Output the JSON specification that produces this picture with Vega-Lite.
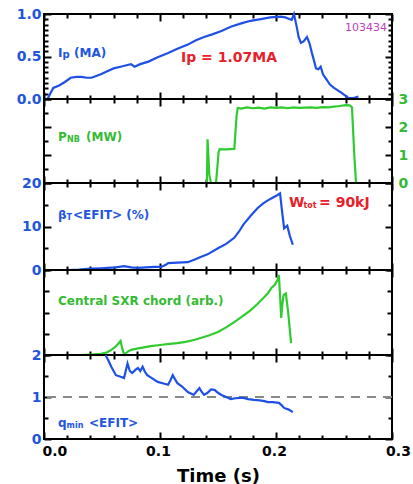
{
  "$schema": "https://vega.github.io/schema/vega-lite/v6.json",
  "padding": {"left": 15, "top": 6, "right": 5, "bottom": 5},
  "background": "white",
  "spacing": 0,
  "bounds": "flush",
  "config": {
    "view": {"stroke": "black", "strokeWidth": 2},
    "axis": {"domain": false, "grid": false, "labelFont": "DejaVu Sans", "labelFontWeight": "bold", "labelFontSize": 14, "tickColor": "black", "tickWidth": 2},
    "text": {"font": "DejaVu Sans", "fontWeight": "bold", "align": "left", "baseline": "middle"}
  },
  "datasets": {
    "ip": [
      {"t": 0.003, "v": 0}, {"t": 0.006, "v": 0.08}, {"t": 0.008, "v": 0.13}, {"t": 0.013, "v": 0.16}, {"t": 0.018, "v": 0.2},
      {"t": 0.023, "v": 0.25}, {"t": 0.028, "v": 0.26}, {"t": 0.032, "v": 0.26}, {"t": 0.037, "v": 0.25}, {"t": 0.041, "v": 0.25},
      {"t": 0.045, "v": 0.27}, {"t": 0.049, "v": 0.29}, {"t": 0.055, "v": 0.33}, {"t": 0.06, "v": 0.36}, {"t": 0.066, "v": 0.38},
      {"t": 0.072, "v": 0.4}, {"t": 0.075, "v": 0.41}, {"t": 0.078, "v": 0.38}, {"t": 0.083, "v": 0.41}, {"t": 0.09, "v": 0.44},
      {"t": 0.098, "v": 0.49}, {"t": 0.107, "v": 0.54}, {"t": 0.115, "v": 0.59}, {"t": 0.124, "v": 0.64}, {"t": 0.131, "v": 0.69},
      {"t": 0.138, "v": 0.73}, {"t": 0.145, "v": 0.76}, {"t": 0.153, "v": 0.8}, {"t": 0.161, "v": 0.85}, {"t": 0.17, "v": 0.89},
      {"t": 0.178, "v": 0.92}, {"t": 0.187, "v": 0.94}, {"t": 0.195, "v": 0.96}, {"t": 0.204, "v": 0.97}, {"t": 0.208, "v": 0.96},
      {"t": 0.2115, "v": 0.94}, {"t": 0.2135, "v": 0.93}, {"t": 0.2155, "v": 1.0}, {"t": 0.218, "v": 0.84}, {"t": 0.2195, "v": 0.73},
      {"t": 0.2215, "v": 0.66}, {"t": 0.224, "v": 0.68}, {"t": 0.2267, "v": 0.73}, {"t": 0.229, "v": 0.65}, {"t": 0.231, "v": 0.54},
      {"t": 0.233, "v": 0.44}, {"t": 0.2345, "v": 0.36}, {"t": 0.2365, "v": 0.35}, {"t": 0.2385, "v": 0.38}, {"t": 0.2405, "v": 0.29},
      {"t": 0.2435, "v": 0.23}, {"t": 0.2465, "v": 0.17}, {"t": 0.25, "v": 0.13}, {"t": 0.2569, "v": 0.07}, {"t": 0.2626, "v": 0.01},
      {"t": 0.267, "v": 0.01}, {"t": 0.271, "v": 0.03}
    ],
    "pnb": [
      {"t": 0.1397, "v": 0}, {"t": 0.1404, "v": 0}, {"t": 0.141, "v": 1.56}, {"t": 0.1425, "v": 0.3}, {"t": 0.144, "v": 0},
      {"t": 0.1483, "v": 0}, {"t": 0.1505, "v": 1.1}, {"t": 0.1515, "v": 1.21}, {"t": 0.156, "v": 1.2}, {"t": 0.16, "v": 1.21},
      {"t": 0.1641, "v": 1.22}, {"t": 0.166, "v": 2.4}, {"t": 0.167, "v": 2.68}, {"t": 0.17, "v": 2.66}, {"t": 0.175, "v": 2.7},
      {"t": 0.18, "v": 2.67}, {"t": 0.185, "v": 2.69}, {"t": 0.19, "v": 2.66}, {"t": 0.195, "v": 2.7}, {"t": 0.2, "v": 2.68},
      {"t": 0.205, "v": 2.7}, {"t": 0.21, "v": 2.67}, {"t": 0.215, "v": 2.7}, {"t": 0.22, "v": 2.68}, {"t": 0.225, "v": 2.69},
      {"t": 0.23, "v": 2.7}, {"t": 0.235, "v": 2.68}, {"t": 0.24, "v": 2.71}, {"t": 0.245, "v": 2.7}, {"t": 0.25, "v": 2.73},
      {"t": 0.255, "v": 2.75}, {"t": 0.26, "v": 2.78}, {"t": 0.2635, "v": 2.77}, {"t": 0.2655, "v": 2.7}, {"t": 0.2675, "v": 1.0},
      {"t": 0.269, "v": 0}
    ],
    "beta": [
      {"t": 0.02, "v": 0}, {"t": 0.03, "v": 0.1}, {"t": 0.04, "v": 0.3}, {"t": 0.049, "v": 0.4}, {"t": 0.055, "v": 0.5},
      {"t": 0.062, "v": 0.6}, {"t": 0.069, "v": 0.9}, {"t": 0.075, "v": 0.6}, {"t": 0.081, "v": 0.5}, {"t": 0.088, "v": 0.6},
      {"t": 0.095, "v": 0.7}, {"t": 0.101, "v": 0.7}, {"t": 0.105, "v": 1.2}, {"t": 0.107, "v": 1.6}, {"t": 0.115, "v": 1.7},
      {"t": 0.124, "v": 1.8}, {"t": 0.13, "v": 2.4}, {"t": 0.135, "v": 3.0}, {"t": 0.141, "v": 3.6}, {"t": 0.15, "v": 5.0},
      {"t": 0.157, "v": 6.0}, {"t": 0.164, "v": 7.4}, {"t": 0.168, "v": 8.8}, {"t": 0.172, "v": 10.5}, {"t": 0.178, "v": 12.4},
      {"t": 0.184, "v": 14.2}, {"t": 0.189, "v": 15.3}, {"t": 0.193, "v": 16.0}, {"t": 0.197, "v": 16.6}, {"t": 0.201, "v": 17.2},
      {"t": 0.2035, "v": 17.6}, {"t": 0.205, "v": 14.0}, {"t": 0.207, "v": 9.6}, {"t": 0.2097, "v": 10.2}, {"t": 0.212, "v": 7.8},
      {"t": 0.2145, "v": 5.8}
    ],
    "sxr": [
      {"t": 0.032, "v": 0}, {"t": 0.04, "v": 0.02}, {"t": 0.049, "v": 0.05}, {"t": 0.054, "v": 0.12}, {"t": 0.058, "v": 0.24},
      {"t": 0.062, "v": 0.4}, {"t": 0.066, "v": 0.66}, {"t": 0.0675, "v": 0.3}, {"t": 0.069, "v": 0.02}, {"t": 0.072, "v": 0.15},
      {"t": 0.075, "v": 0.24}, {"t": 0.08, "v": 0.3}, {"t": 0.086, "v": 0.36}, {"t": 0.092, "v": 0.42}, {"t": 0.1, "v": 0.47},
      {"t": 0.108, "v": 0.52}, {"t": 0.115, "v": 0.56}, {"t": 0.122, "v": 0.62}, {"t": 0.13, "v": 0.72}, {"t": 0.135, "v": 0.8},
      {"t": 0.142, "v": 0.92}, {"t": 0.15, "v": 1.08}, {"t": 0.157, "v": 1.3}, {"t": 0.164, "v": 1.55}, {"t": 0.171, "v": 1.82},
      {"t": 0.178, "v": 2.1}, {"t": 0.184, "v": 2.4}, {"t": 0.19, "v": 2.73}, {"t": 0.193, "v": 2.9}, {"t": 0.196, "v": 3.15},
      {"t": 0.199, "v": 3.3}, {"t": 0.2015, "v": 3.55}, {"t": 0.2025, "v": 3.76}, {"t": 0.2035, "v": 2.8}, {"t": 0.2045, "v": 1.74},
      {"t": 0.2055, "v": 2.4}, {"t": 0.2065, "v": 2.82}, {"t": 0.2085, "v": 2.9}, {"t": 0.2105, "v": 2.0}, {"t": 0.213, "v": 0.56}
    ],
    "qmin": [
      {"t": 0.053, "v": 2.0}, {"t": 0.055, "v": 1.9}, {"t": 0.058, "v": 1.72}, {"t": 0.062, "v": 1.52}, {"t": 0.066, "v": 1.48},
      {"t": 0.069, "v": 1.45}, {"t": 0.072, "v": 1.8}, {"t": 0.074, "v": 1.62}, {"t": 0.076, "v": 1.57}, {"t": 0.079, "v": 1.65},
      {"t": 0.081, "v": 1.69}, {"t": 0.083, "v": 1.62}, {"t": 0.085, "v": 1.72}, {"t": 0.087, "v": 1.6}, {"t": 0.089, "v": 1.52},
      {"t": 0.093, "v": 1.45}, {"t": 0.098, "v": 1.36}, {"t": 0.103, "v": 1.32}, {"t": 0.107, "v": 1.29}, {"t": 0.109, "v": 1.4},
      {"t": 0.111, "v": 1.52}, {"t": 0.113, "v": 1.42}, {"t": 0.115, "v": 1.33}, {"t": 0.119, "v": 1.25}, {"t": 0.124, "v": 1.12},
      {"t": 0.127, "v": 1.08}, {"t": 0.129, "v": 1.05}, {"t": 0.132, "v": 1.15}, {"t": 0.134, "v": 1.21}, {"t": 0.136, "v": 1.12},
      {"t": 0.138, "v": 1.05}, {"t": 0.141, "v": 1.1}, {"t": 0.144, "v": 1.18}, {"t": 0.147, "v": 1.17}, {"t": 0.15, "v": 1.1},
      {"t": 0.153, "v": 1.05}, {"t": 0.157, "v": 1.0}, {"t": 0.161, "v": 0.95}, {"t": 0.165, "v": 0.97}, {"t": 0.169, "v": 0.98},
      {"t": 0.172, "v": 0.98}, {"t": 0.176, "v": 0.95}, {"t": 0.181, "v": 0.93}, {"t": 0.186, "v": 0.92}, {"t": 0.19, "v": 0.9},
      {"t": 0.193, "v": 0.88}, {"t": 0.197, "v": 0.88}, {"t": 0.2025, "v": 0.86}, {"t": 0.205, "v": 0.8}, {"t": 0.207, "v": 0.74},
      {"t": 0.211, "v": 0.7}, {"t": 0.2145, "v": 0.64}
    ]
  },
  "vconcat": [
    {
      "width": 348, "height": 85,
      "layer": [
        {"data": {"name": "ip"}, "mark": {"type": "line", "color": "#1e50e6", "strokeWidth": 2.2},
         "encoding": {
           "x": {"field": "t", "type": "quantitative", "scale": {"domain": [0, 0.3], "nice": false},
                 "axis": {"orient": "bottom", "values": [0,0.02,0.04,0.06,0.08,0.1,0.12,0.14,0.16,0.18,0.2,0.22,0.24,0.26,0.28,0.3], "labels": false, "title": null,
                          "tickSize": {"condition": {"test": "abs(datum.value*10-round(datum.value*10))<0.001", "value": -7}, "value": -4}}},
           "y": {"field": "v", "type": "quantitative", "scale": {"domain": [0, 1], "nice": false},
                 "axis": {"orient": "left", "values": [0,0.0625,0.125,0.1875,0.25,0.3125,0.375,0.4375,0.5,0.5625,0.625,0.6875,0.75,0.8125,0.875,0.9375,1],
                          "labelExpr": "abs(datum.value*2-round(datum.value*2))<0.001 ? format(datum.value,'.1f') : ''", "labelColor": "#2255dd", "labelPadding": 10, "labelOverlap": false, "title": null,
                          "tickSize": {"condition": {"test": "abs(datum.value*2-round(datum.value*2))<0.001", "value": -7}, "value": -4}}}
         }},
        {"data": {"values": [{}]}, "mark": {"type": "text", "color": "#2255dd", "fontSize": 12},
         "encoding": {
           "x": {"datum": 0.0121, "type": "quantitative",
                 "axis": {"orient": "top", "values": [0,0.02,0.04,0.06,0.08,0.1,0.12,0.14,0.16,0.18,0.2,0.22,0.24,0.26,0.28,0.3], "labels": false, "title": null,
                          "tickSize": {"condition": {"test": "abs(datum.value*10-round(datum.value*10))<0.001", "value": -7}, "value": -4}}},
           "y": {"datum": 0.54, "type": "quantitative",
                 "axis": {"orient": "right", "values": [0,0.0625,0.125,0.1875,0.25,0.3125,0.375,0.4375,0.5,0.5625,0.625,0.6875,0.75,0.8125,0.875,0.9375,1], "labels": false, "title": null,
                          "tickSize": {"condition": {"test": "abs(datum.value*2-round(datum.value*2))<0.001", "value": -7}, "value": -4}}},
           "text": {"value": "I"}
         }},
        {"data": {"values": [{}]}, "mark": {"type": "text", "color": "#2255dd", "fontSize": 10, "dy": 2},
         "encoding": {"x": {"datum": 0.0159, "type": "quantitative", "axis": null}, "y": {"datum": 0.54, "type": "quantitative", "axis": null}, "text": {"value": "p"}}},
        {"data": {"values": [{}]}, "mark": {"type": "text", "color": "#2255dd", "fontSize": 12},
         "encoding": {"x": {"datum": 0.0259, "type": "quantitative", "axis": null}, "y": {"datum": 0.54, "type": "quantitative", "axis": null}, "text": {"value": "(MA)"}}},
        {"data": {"values": [{}]}, "mark": {"type": "text", "color": "#e8202a", "fontSize": 14},
         "encoding": {"x": {"datum": 0.1181, "type": "quantitative", "axis": null}, "y": {"datum": 0.48, "type": "quantitative", "axis": null}, "text": {"value": "Ip = 1.07MA"}}},
        {"data": {"values": [{}]}, "mark": {"type": "text", "color": "#c040c0", "fontSize": 11, "fontWeight": "normal", "align": "right"},
         "encoding": {"x": {"datum": 0.2957, "type": "quantitative", "axis": null}, "y": {"datum": 0.835, "type": "quantitative", "axis": null}, "text": {"value": "103434"}}}
      ],
      "resolve": {"axis": {"x": "independent", "y": "independent"}}
    },
    {
      "width": 348, "height": 84,
      "layer": [
        {"data": {"name": "pnb"}, "mark": {"type": "line", "color": "#2ecc2e", "strokeWidth": 2.2},
         "encoding": {
           "x": {"field": "t", "type": "quantitative", "scale": {"domain": [0, 0.3], "nice": false},
                 "axis": {"orient": "bottom", "values": [0,0.02,0.04,0.06,0.08,0.1,0.12,0.14,0.16,0.18,0.2,0.22,0.24,0.26,0.28,0.3], "labels": false, "title": null,
                          "tickSize": {"condition": {"test": "abs(datum.value*10-round(datum.value*10))<0.001", "value": -7}, "value": -4}}},
           "y": {"field": "v", "type": "quantitative", "scale": {"domain": [0, 3], "nice": false},
                 "axis": {"orient": "left", "values": [0,0.5,1,1.5,2,2.5,3], "labels": false, "title": null,
                          "tickSize": {"condition": {"test": "abs(datum.value-round(datum.value))<0.001", "value": -7}, "value": -4}}}
         }},
        {"data": {"values": [{}]}, "mark": {"type": "text", "color": "#33bb33", "fontSize": 12},
         "encoding": {
           "x": {"datum": 0.0121, "type": "quantitative",
                 "axis": {"orient": "top", "values": [0,0.02,0.04,0.06,0.08,0.1,0.12,0.14,0.16,0.18,0.2,0.22,0.24,0.26,0.28,0.3], "labels": false, "title": null,
                          "tickSize": {"condition": {"test": "abs(datum.value*10-round(datum.value*10))<0.001", "value": -7}, "value": -4}}},
           "y": {"datum": 1.64, "type": "quantitative",
                 "axis": {"orient": "right", "values": [0,0.5,1,1.5,2,2.5,3], "labelExpr": "abs(datum.value-round(datum.value))<0.001 ? format(datum.value,'d') : ''",
                          "labelColor": "#33bb33", "labelPadding": 13, "labelOverlap": false, "title": null,
                          "tickSize": {"condition": {"test": "abs(datum.value-round(datum.value))<0.001", "value": -7}, "value": -4}}},
           "text": {"value": "P"}
         }},
        {"data": {"values": [{}]}, "mark": {"type": "text", "color": "#33bb33", "fontSize": 8, "dy": 3},
         "encoding": {"x": {"datum": 0.0198, "type": "quantitative", "axis": null}, "y": {"datum": 1.64, "type": "quantitative", "axis": null}, "text": {"value": "NB"}}},
        {"data": {"values": [{}]}, "mark": {"type": "text", "color": "#33bb33", "fontSize": 12},
         "encoding": {"x": {"datum": 0.0362, "type": "quantitative", "axis": null}, "y": {"datum": 1.64, "type": "quantitative", "axis": null}, "text": {"value": "(MW)"}}}
      ],
      "resolve": {"axis": {"x": "independent", "y": "independent"}}
    },
    {
      "width": 348, "height": 87,
      "layer": [
        {"data": {"name": "beta"}, "mark": {"type": "line", "color": "#1e50e6", "strokeWidth": 2.2},
         "encoding": {
           "x": {"field": "t", "type": "quantitative", "scale": {"domain": [0, 0.3], "nice": false},
                 "axis": {"orient": "bottom", "values": [0,0.02,0.04,0.06,0.08,0.1,0.12,0.14,0.16,0.18,0.2,0.22,0.24,0.26,0.28,0.3], "labels": false, "title": null,
                          "tickSize": {"condition": {"test": "abs(datum.value*10-round(datum.value*10))<0.001", "value": -7}, "value": -4}}},
           "y": {"field": "v", "type": "quantitative", "scale": {"domain": [0, 20], "nice": false},
                 "axis": {"orient": "left", "values": [0,5,10,15,20], "labelExpr": "datum.value%10==0 ? format(datum.value,'d') : ''", "labelColor": "#2255dd", "labelPadding": 10, "labelOverlap": false, "title": null,
                          "tickSize": {"condition": {"test": "datum.value%10==0", "value": -7}, "value": -4}}}
         }},
        {"data": {"values": [{}]}, "mark": {"type": "text", "color": "#2255dd", "fontSize": 12},
         "encoding": {
           "x": {"datum": 0.0121, "type": "quantitative",
                 "axis": {"orient": "top", "values": [0,0.02,0.04,0.06,0.08,0.1,0.12,0.14,0.16,0.18,0.2,0.22,0.24,0.26,0.28,0.3], "labels": false, "title": null,
                          "tickSize": {"condition": {"test": "abs(datum.value*10-round(datum.value*10))<0.001", "value": -7}, "value": -4}}},
           "y": {"datum": 12.6, "type": "quantitative",
                 "axis": {"orient": "right", "values": [0,5,10,15,20], "labels": false, "title": null,
                          "tickSize": {"condition": {"test": "datum.value%10==0", "value": -7}, "value": -4}}},
           "text": {"value": "β"}
         }},
        {"data": {"values": [{}]}, "mark": {"type": "text", "color": "#2255dd", "fontSize": 8, "dy": 3},
         "encoding": {"x": {"datum": 0.0194, "type": "quantitative", "axis": null}, "y": {"datum": 12.6, "type": "quantitative", "axis": null}, "text": {"value": "T"}}},
        {"data": {"values": [{}]}, "mark": {"type": "text", "color": "#2255dd", "fontSize": 12},
         "encoding": {"x": {"datum": 0.025, "type": "quantitative", "axis": null}, "y": {"datum": 12.6, "type": "quantitative", "axis": null}, "text": {"value": "<EFIT> (%)"}}},
        {"data": {"values": [{}]}, "mark": {"type": "text", "color": "#e8202a", "fontSize": 14},
         "encoding": {"x": {"datum": 0.2112, "type": "quantitative", "axis": null}, "y": {"datum": 15.4, "type": "quantitative", "axis": null}, "text": {"value": "W"}}},
        {"data": {"values": [{}]}, "mark": {"type": "text", "color": "#e8202a", "fontSize": 8, "dy": 3},
         "encoding": {"x": {"datum": 0.2236, "type": "quantitative", "axis": null}, "y": {"datum": 15.4, "type": "quantitative", "axis": null}, "text": {"value": "tot"}}},
        {"data": {"values": [{}]}, "mark": {"type": "text", "color": "#e8202a", "fontSize": 14},
         "encoding": {"x": {"datum": 0.2371, "type": "quantitative", "axis": null}, "y": {"datum": 15.4, "type": "quantitative", "axis": null}, "text": {"value": "= 90kJ"}}}
      ],
      "resolve": {"axis": {"x": "independent", "y": "independent"}}
    },
    {
      "width": 348, "height": 85,
      "layer": [
        {"data": {"name": "sxr"}, "mark": {"type": "line", "color": "#2ecc2e", "strokeWidth": 2.2},
         "encoding": {
           "x": {"field": "t", "type": "quantitative", "scale": {"domain": [0, 0.3], "nice": false},
                 "axis": {"orient": "bottom", "values": [0,0.02,0.04,0.06,0.08,0.1,0.12,0.14,0.16,0.18,0.2,0.22,0.24,0.26,0.28,0.3], "labels": false, "title": null,
                          "tickSize": {"condition": {"test": "abs(datum.value*10-round(datum.value*10))<0.001", "value": -7}, "value": -4}}},
           "y": {"field": "v", "type": "quantitative", "scale": {"domain": [0, 4], "nice": false},
                 "axis": {"orient": "left", "values": [0,1,2,3,4], "labels": false, "title": null, "tickSize": -5}}
         }},
        {"data": {"values": [{}]}, "mark": {"type": "text", "color": "#33bb33", "fontSize": 12},
         "encoding": {
           "x": {"datum": 0.0121, "type": "quantitative",
                 "axis": {"orient": "top", "values": [0,0.02,0.04,0.06,0.08,0.1,0.12,0.14,0.16,0.18,0.2,0.22,0.24,0.26,0.28,0.3], "labels": false, "title": null,
                          "tickSize": {"condition": {"test": "abs(datum.value*10-round(datum.value*10))<0.001", "value": -7}, "value": -4}}},
           "y": {"datum": 2.54, "type": "quantitative",
                 "axis": {"orient": "right", "values": [0,1,2,3,4], "labels": false, "title": null, "tickSize": -5}},
           "text": {"value": "Central SXR chord (arb.)"}
         }}
      ],
      "resolve": {"axis": {"x": "independent", "y": "independent"}}
    },
    {
      "width": 348, "height": 84,
      "layer": [
        {"data": {"values": [{}]}, "mark": {"type": "rule", "color": "#888888", "strokeWidth": 2, "strokeDash": [9, 7]},
         "encoding": {"y": {"datum": 1, "type": "quantitative", "scale": {"domain": [0, 2], "nice": false}, "axis": null}}},
        {"data": {"name": "qmin"}, "mark": {"type": "line", "color": "#1e50e6", "strokeWidth": 2.2},
         "encoding": {
           "x": {"field": "t", "type": "quantitative", "scale": {"domain": [0, 0.3], "nice": false},
                 "axis": {"orient": "bottom", "values": [0,0.02,0.04,0.06,0.08,0.1,0.12,0.14,0.16,0.18,0.2,0.22,0.24,0.26,0.28,0.3],
                          "labelExpr": "abs(datum.value*10-round(datum.value*10))<0.001 ? format(datum.value,'.1f') : ''", "labelFlush": false, "labelOverlap": false,
                          "labelAlign": {"condition": {"test": "datum.value<0.001", "value": "left"}, "value": "center"},
                          "labelOffset": {"condition": {"test": "datum.value>0.29", "value": 6}, "value": -2},
                          "labelPadding": 12, "labelColor": "black", "title": "Time (s)", "titleFont": "DejaVu Sans", "titleFontSize": 18, "titleFontWeight": "bold", "titleColor": "black", "titlePadding": 6,
                          "tickSize": {"condition": {"test": "abs(datum.value*10-round(datum.value*10))<0.001", "value": -7}, "value": -4}}},
           "y": {"field": "v", "type": "quantitative", "scale": {"domain": [0, 2], "nice": false},
                 "axis": {"orient": "left", "values": [0,0.5,1,1.5,2], "labelExpr": "datum.value%1==0 ? format(datum.value,'d') : ''", "labelColor": "#2255dd", "labelPadding": 10, "labelOverlap": false, "title": null,
                          "tickSize": {"condition": {"test": "datum.value%1==0", "value": -7}, "value": -4}}}
         }},
        {"data": {"values": [{}]}, "mark": {"type": "text", "color": "#2255dd", "fontSize": 12},
         "encoding": {
           "x": {"datum": 0.0121, "type": "quantitative",
                 "axis": {"orient": "top", "values": [0,0.02,0.04,0.06,0.08,0.1,0.12,0.14,0.16,0.18,0.2,0.22,0.24,0.26,0.28,0.3], "labels": false, "title": null,
                          "tickSize": {"condition": {"test": "abs(datum.value*10-round(datum.value*10))<0.001", "value": -7}, "value": -4}}},
           "y": {"datum": 0.37, "type": "quantitative",
                 "axis": {"orient": "right", "values": [0,0.5,1,1.5,2], "labels": false, "title": null,
                          "tickSize": {"condition": {"test": "datum.value%1==0", "value": -7}, "value": -4}}},
           "text": {"value": "q"}
         }},
        {"data": {"values": [{}]}, "mark": {"type": "text", "color": "#2255dd", "fontSize": 8, "dy": 3},
         "encoding": {"x": {"datum": 0.0195, "type": "quantitative", "axis": null}, "y": {"datum": 0.37, "type": "quantitative", "axis": null}, "text": {"value": "min"}}},
        {"data": {"values": [{}]}, "mark": {"type": "text", "color": "#2255dd", "fontSize": 12},
         "encoding": {"x": {"datum": 0.0388, "type": "quantitative", "axis": null}, "y": {"datum": 0.37, "type": "quantitative", "axis": null}, "text": {"value": "<EFIT>"}}}
      ],
      "resolve": {"axis": {"x": "independent", "y": "independent"}}
    }
  ]
}
